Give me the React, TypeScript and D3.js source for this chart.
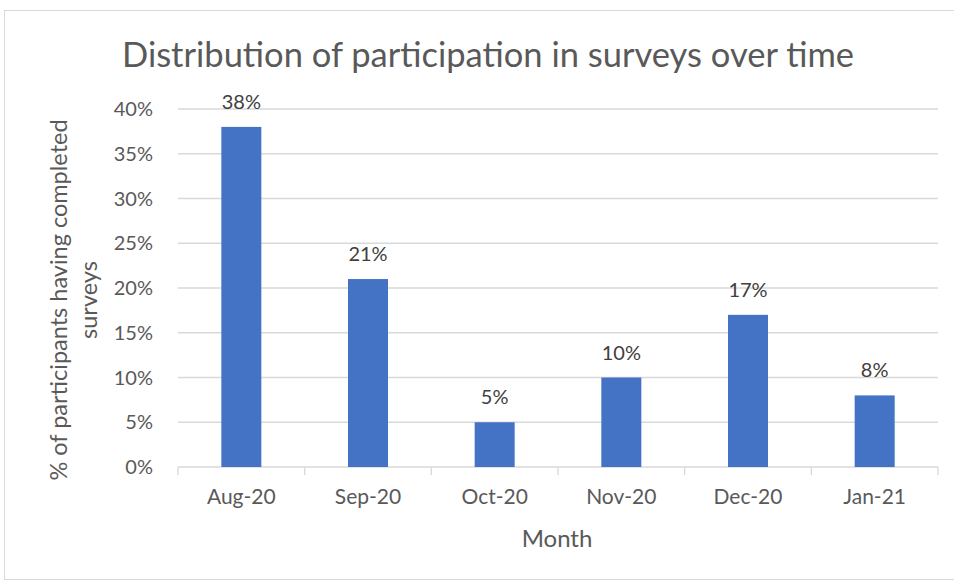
import React from "react";
import * as d3 from "d3";

const months = ["Aug-20", "Sep-20", "Oct-20", "Nov-20", "Dec-20", "Jan-21"];
const values = [38, 21, 5, 10, 17, 8];
const yTicks = [0, 5, 10, 15, 20, 25, 30, 35, 40];
const title = "Distribution of participation in surveys over time";
const yLabelLines = ["% of participants having completed", "surveys"];
const xLabel = "Month";

const W = 954, H = 580;
const FONT = "Lato, 'Open Sans', sans-serif";

export default function App() {
  const left = 178, right = 938, top = 109, bottom = 467;
  const x = d3.scaleBand<string>().domain(months).range([left, right]).padding(0);
  const y = d3.scaleLinear().domain([0, 40]).range([bottom, top]);
  const barW = 40;
  return (
    <svg width={W} height={H} style={{ position: "absolute", left: 0, top: 0, background: "#fff" }} fontFamily={FONT}>
      <rect x={4.5} y={10.5} width={950} height={569} fill="#fff" stroke="#d9d9d9" />
      <text x={488} y={67} textAnchor="middle" fontSize={34.5} fill="#595959">{title}</text>
      {yTicks.map((t) => (
        <g key={t}>
          {t > 0 && <line x1={left} x2={right} y1={y(t)} y2={y(t)} stroke="#d9d9d9" strokeWidth={1.3} />}
          <text x={153} y={y(t) + 7} textAnchor="end" fontSize={20} fill="#595959">{t}%</text>
        </g>
      ))}
      <line x1={left} x2={right} y1={bottom} y2={bottom} stroke="#d9d9d9" strokeWidth={1.3} />
      {[...months.map((m) => x(m)!), right].map((px, i) => (
        <line key={i} x1={px} x2={px} y1={bottom} y2={bottom + 8} stroke="#d9d9d9" strokeWidth={1.3} />
      ))}
      {months.map((m, i) => {
        const cx = x(m)! + x.bandwidth() / 2;
        return (
          <g key={m}>
            <rect x={cx - barW / 2} y={y(values[i])} width={barW} height={bottom - y(values[i])} fill="#4472c4" />
            <text x={cx} y={y(values[i]) - 18} textAnchor="middle" fontSize={20} fill="#404040">{values[i]}%</text>
            <text x={cx} y={504} textAnchor="middle" fontSize={21} fill="#595959">{m}</text>
          </g>
        );
      })}
      <text x={557} y={547} textAnchor="middle" fontSize={24} fill="#595959">{xLabel}</text>
      <g transform="translate(67,300) rotate(-90)">
        <text x={0} y={0} textAnchor="middle" fontSize={23.5} fill="#595959">{yLabelLines[0]}</text>
        <text x={0} y={30} textAnchor="middle" fontSize={23.5} fill="#595959">{yLabelLines[1]}</text>
      </g>
    </svg>
  );
}
